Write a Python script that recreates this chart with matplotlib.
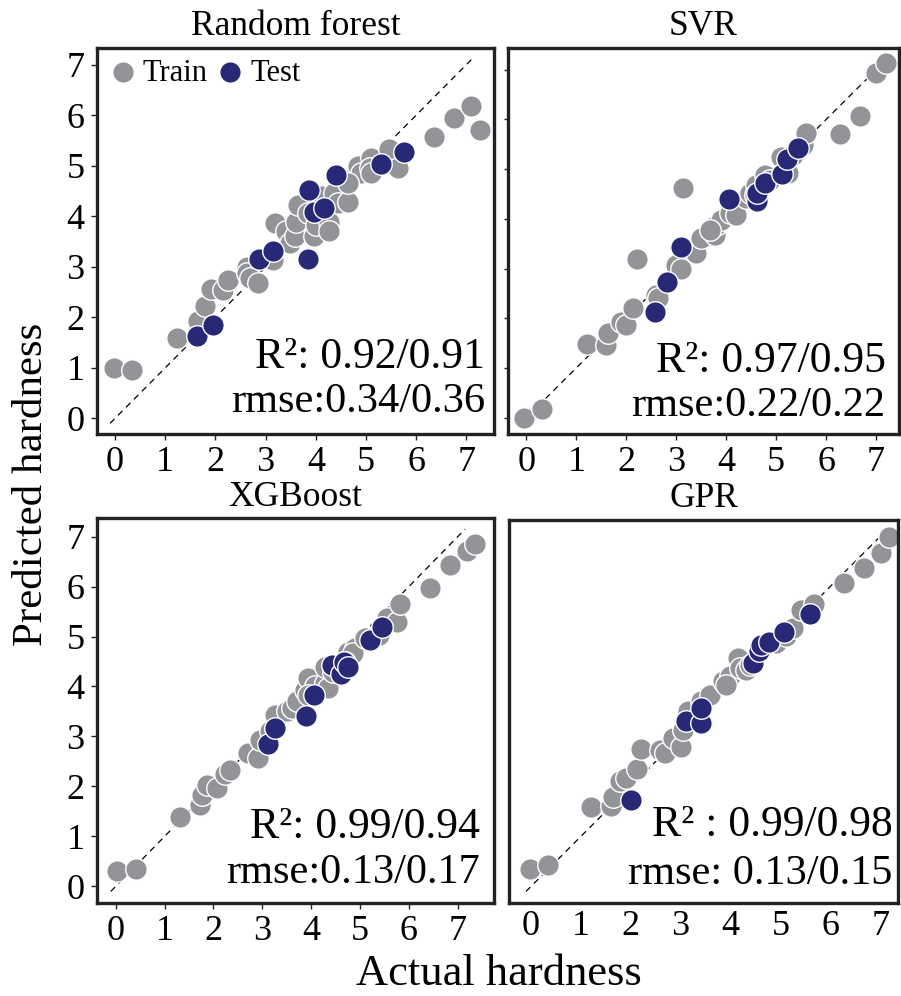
import matplotlib
matplotlib.use('Agg')
import matplotlib.pyplot as plt

plt.rcParams['font.family'] = ['Liberation Serif', 'DejaVu Serif']

GRAY = '#939498'
NAVY = '#272977'

titles = ['Random forest', 'SVR', 'XGBoost', 'GPR']
r2_texts = ['R²: 0.92/0.91', 'R²: 0.97/0.95', 'R²: 0.99/0.94', 'R² : 0.99/0.98']
rmse_texts = ['rmse:0.34/0.36', 'rmse:0.22/0.22', 'rmse:0.13/0.17', 'rmse: 0.13/0.15']

# Random forest
rf_train_x = [-0.03, 0.33, 1.23, 1.66, 1.79, 1.92, 2.15, 2.25, 2.62, 2.62, 2.68, 2.85, 3.15, 3.18,
              3.41, 3.48, 3.58, 3.61, 3.64, 3.84, 3.97, 4.00, 4.11, 4.24, 4.27, 4.27, 4.37, 4.44,
              4.64, 4.67, 4.83, 4.90, 5.10, 5.07, 5.46, 5.63, 6.36, 6.75, 7.09, 7.28, 5.10, 4.64]
rf_train_y = [0.99, 0.95, 1.59, 1.92, 2.22, 2.55, 2.54, 2.74, 3.00, 2.87, 2.77, 2.67, 3.13, 3.86,
              3.70, 3.46, 3.60, 3.89, 4.23, 4.06, 3.60, 3.83, 4.39, 4.19, 3.89, 3.70, 4.46, 4.26,
              4.29, 4.72, 4.99, 4.85, 5.15, 4.95, 5.32, 4.95, 5.56, 5.95, 6.18, 5.70, 4.85, 4.66]
rf_test_x = [1.64, 1.95, 2.86, 3.15, 3.84, 3.86, 3.97, 4.17, 4.40, 5.30, 5.76]
rf_test_y = [1.62, 1.84, 3.15, 3.31, 3.15, 4.52, 4.09, 4.16, 4.82, 5.03, 5.27]

# SVR
svr_train_x = [-0.05, 0.31, 1.21, 1.60, 1.63, 1.90, 2.00, 2.13, 2.21, 2.59, 2.63, 3.00, 3.10, 3.13,
               3.40, 3.50, 3.77, 3.80, 3.90, 4.07, 4.20, 4.40, 4.47, 4.60, 4.77, 4.87, 5.10, 5.23,
               5.33, 5.53, 5.60, 6.27, 6.67, 7.00, 7.20, 4.57, 3.67]
svr_train_y = [0.00, 0.17, 1.48, 1.46, 1.70, 1.93, 1.86, 2.20, 3.19, 2.47, 2.40, 3.07, 3.00, 4.63,
               3.31, 3.61, 3.68, 3.88, 3.98, 4.11, 4.08, 4.41, 4.51, 4.68, 4.88, 4.78, 5.25, 4.92,
               5.28, 5.49, 5.72, 5.71, 6.07, 6.93, 7.13, 4.48, 3.78]
svr_test_x = [2.57, 2.82, 3.10, 4.05, 4.62, 4.62, 4.77, 5.12, 5.21, 5.43]
svr_test_y = [2.13, 2.72, 3.44, 4.39, 4.36, 4.51, 4.73, 4.90, 5.20, 5.42]

# XGBoost
xgb_train_x = [0.03, 0.42, 1.32, 1.73, 1.76, 1.86, 2.07, 2.24, 2.34, 2.71, 2.92, 2.95, 3.16, 3.26,
               3.50, 3.60, 3.70, 3.87, 3.94, 4.08, 4.28, 4.35, 4.28, 4.45, 4.76, 4.90, 4.86, 5.10,
               5.38, 5.55, 5.75, 5.82, 6.43, 6.84, 7.18, 7.35, 3.94, 4.69]
xgb_train_y = [0.31, 0.35, 1.38, 1.63, 1.83, 2.03, 1.97, 2.25, 2.33, 2.67, 2.57, 2.93, 3.10, 3.43,
               3.50, 3.57, 3.70, 3.93, 4.17, 4.00, 4.07, 3.97, 4.40, 4.30, 4.70, 4.77, 4.67, 4.97,
               5.03, 5.37, 5.30, 5.65, 5.98, 6.43, 6.71, 6.85, 3.83, 4.50]
xgb_test_x = [3.11, 3.26, 3.90, 4.06, 4.43, 4.62, 4.68, 4.76, 5.20, 5.44]
xgb_test_y = [2.85, 3.17, 3.41, 3.83, 4.43, 4.25, 4.50, 4.40, 4.93, 5.20]

# GPR
gpr_train_x = [-0.02, 0.35, 1.21, 1.61, 1.65, 1.78, 1.91, 2.13, 2.21, 2.58, 2.68, 2.85, 3.01, 3.05,
               3.15, 3.41, 3.58, 3.85, 3.98, 4.15, 4.18, 4.31, 4.38, 4.65, 4.91, 5.11, 5.25, 5.41,
               5.68, 6.28, 6.68, 7.01, 7.18, 3.91]
gpr_train_y = [0.35, 0.42, 1.58, 1.60, 1.78, 2.10, 2.17, 2.35, 2.75, 2.73, 2.67, 2.97, 2.78, 3.13,
               3.50, 3.70, 3.83, 4.10, 4.20, 4.57, 4.37, 4.33, 4.43, 4.80, 4.87, 5.00, 5.17, 5.53,
               5.65, 6.07, 6.37, 6.67, 6.98, 4.03]
gpr_test_x = [2.00, 3.11, 3.40, 3.40, 4.46, 4.58, 4.61, 4.78, 5.08, 5.60]
gpr_test_y = [1.73, 3.31, 3.27, 3.57, 4.47, 4.70, 4.83, 4.88, 5.09, 5.45]

train_x = [rf_train_x, svr_train_x, xgb_train_x, gpr_train_x]
train_y = [rf_train_y, svr_train_y, xgb_train_y, gpr_train_y]
test_x = [rf_test_x, svr_test_x, xgb_test_x, gpr_test_x]
test_y = [rf_test_y, svr_test_y, xgb_test_y, gpr_test_y]

ticks = list(range(8))

# axes boxes [left, bottom, width, height] and limits per panel
boxes = [[0.1077, 0.5643, 0.4406, 0.3876],
         [0.5638, 0.5643, 0.4335, 0.3876],
         [0.1077, 0.0934, 0.4406, 0.3865],
         [0.5649, 0.0934, 0.4320, 0.3846]]
xlims = [(-0.36, 7.55), (-0.37, 7.45), (-0.38, 7.74), (-0.44, 7.36)]
ylims = [(-0.31, 7.33), (-0.33, 7.44), (-0.33, 7.37), (-0.33, 7.33)]
text_x = [0.977, 0.967, 0.965, 0.985]
r2_y = [0.171, 0.161, 0.169, 0.175]
rmse_y = [0.058, 0.047, 0.052, 0.049]


def main():
    fig = plt.figure(figsize=(9.01, 9.96), dpi=100)
    for i in range(4):
        ax = fig.add_axes(boxes[i])
        ax.plot([-0.1, 7.15], [-0.1, 7.15], ls=(0, (5, 4)), color='black', lw=0.9, zorder=1)
        ax.scatter(train_x[i], train_y[i], s=240, c=GRAY, edgecolors='white', linewidths=1.0,
                   zorder=2, label='Train')
        ax.scatter(test_x[i], test_y[i], s=240, c=NAVY, edgecolors='white', linewidths=1.0,
                   zorder=3, label='Test')
        ax.set_xlim(xlims[i]); ax.set_ylim(ylims[i])
        ax.set_title(titles[i], fontsize=25.5, pad=9)
        for sp in ax.spines.values():
            sp.set_linewidth(2.4); sp.set_color('#222222')
        ax.tick_params(axis='both', labelsize=26, length=4, width=1, color='#222222', pad=5)
        ax.set_xticks(ticks)
        ax.set_yticks(ticks)
        if i in (1, 3):
            ax.set_yticklabels([])
            ax.tick_params(axis='y', length=3)
        if i == 3:
            ax.tick_params(axis='y', length=0)
            ax.tick_params(axis='x', length=0)
            ax.set_xticks([0, 2, 4, 6], minor=True)
            ax.tick_params(axis='x', which='minor', length=4, width=1, color='#222222')
        ax.text(text_x[i], r2_y[i], r2_texts[i], transform=ax.transAxes,
                ha='right', va='baseline', fontsize=31.5)
        ax.text(text_x[i], rmse_y[i], rmse_texts[i], transform=ax.transAxes,
                ha='right', va='baseline', fontsize=30.5)
        if i == 0:
            ax.legend(loc='center left', bbox_to_anchor=(0.03, 0.935), ncol=2, frameon=False,
                      fontsize=22, handlelength=0.9, handletextpad=0.2, columnspacing=0.3,
                      borderpad=0, borderaxespad=0)

    fig.text(0.554, 0.011, 'Actual hardness', ha='center', va='baseline', fontsize=32)
    fig.text(0.035, 0.514, 'Predicted hardness', ha='center', va='center',
             rotation=90, fontsize=31)
    fig.savefig('out.png', dpi=100)


if __name__ == '__main__':
    main()
